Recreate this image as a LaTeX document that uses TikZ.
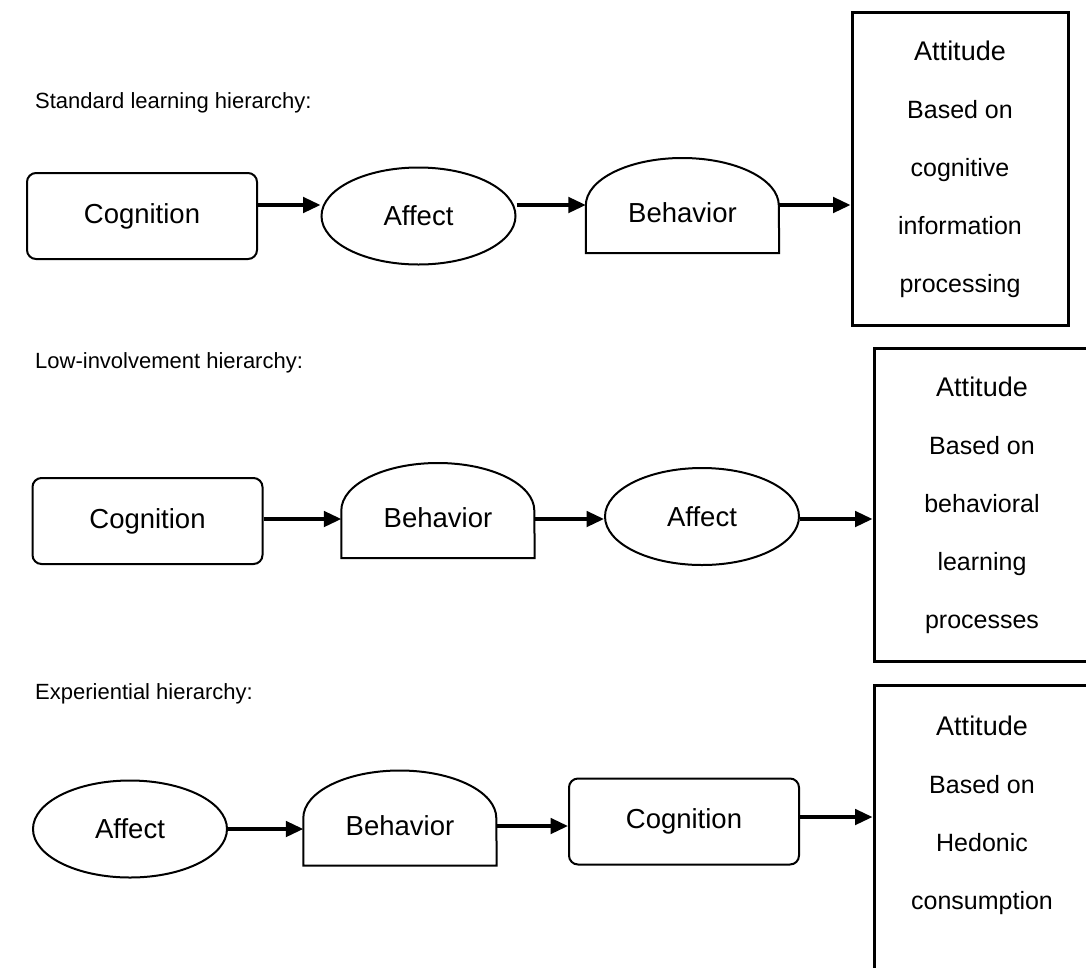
\documentclass[tikz,border=0pt]{standalone}
\usepackage{fontspec}
\setmainfont{Liberation Sans}
\usetikzlibrary{arrows.meta,shapes.geometric,calc}

% rounded-top "dome" outline drawn around a rectangle node
\newcommand\drawdome[1]{%
  \draw[shapeline] (#1.south west) -- (#1.west)
    arc[start angle=180,end angle=0,x radius=96.5pt,y radius=47.5pt]
    -- (#1.south east) -- cycle;}

\begin{document}
\begin{tikzpicture}[x=1pt,y=-1pt,
  shapeline/.style={draw=black,line width=2pt},
  nodefont/.style={font=\fontsize{27.5}{33}\selectfont},
  cogbox/.style={shapeline,rectangle,rounded corners=9pt,minimum width=230pt,
    minimum height=86pt,inner sep=0pt,nodefont},
  affectnode/.style={shapeline,ellipse,minimum width=194pt,minimum height=97pt,
    inner sep=0pt,nodefont},
  domenode/.style={rectangle,minimum width=193pt,minimum height=95pt,inner sep=0pt,
    text height=34pt,text depth=0pt,nodefont},
  attbox/.style={draw=black,line width=3pt,rectangle,minimum width=216pt,
    minimum height=313pt,inner sep=0pt,align=center,font=\fontsize{25}{58}\selectfont},
  heading/.style={anchor=west,inner sep=0pt,font=\fontsize{22}{26}\selectfont},
  flow/.style={line width=3.4pt,-{Triangle[length=17.5pt,width=15.5pt]}}
]
\useasboundingbox (0,0) rectangle (1086,967);
\fill[white] (0,0) rectangle (1086,967);
\clip (0,0) rectangle (1086,967);

% ---------- standard learning hierarchy ----------
\node[heading] (h1) at (35,103) {Standard learning hierarchy:};
\node[cogbox] (c1) at (142,216) {Cognition};
\node[affectnode] (a1) at (418.5,216) {Affect};
\node[domenode] (b1) at (682.5,205.5) {Behavior};
\drawdome{b1}
\node[attbox] (t1) at (960,169) {{\fontsize{27}{58}\selectfont Attitude}\\Based on\\cognitive\\information\\processing};
\coordinate (r1) at (0,205);
\draw[flow] (c1.east |- r1) -- (a1.west |- r1);
\draw[flow] (a1.east |- r1) -- (b1.west |- r1);
\draw[flow] (b1.east |- r1) -- (t1.west |- r1);

% ---------- low-involvement hierarchy ----------
\node[heading] (h2) at (35,363) {Low-involvement hierarchy:};
\node[cogbox] (c2) at (147.5,521) {Cognition};
\node[domenode] (b2) at (438,510.5) {Behavior};
\drawdome{b2}
\node[affectnode] (a2) at (702,516.5) {Affect};
\node[attbox] (t2) at (982,505) {{\fontsize{27}{58}\selectfont Attitude}\\Based on\\behavioral\\learning\\processes};
\coordinate (r2) at (0,519);
\draw[flow] (c2.east |- r2) -- (b2.west |- r2);
\draw[flow] (b2.east |- r2) -- (a2.west |- r2);
\draw[flow] (a2.east |- r2) -- (t2.west |- r2);

% ---------- experiential hierarchy ----------
\node[heading] (h3) at (35,694) {Experiential hierarchy:};
\node[affectnode] (a3) at (130,829) {Affect};
\node[domenode] (b3) at (400,818) {Behavior};
\drawdome{b3}
\node[cogbox] (c3) at (684,821.5) {Cognition};
\node[attbox] (t3) at (982,842) {{\fontsize{27}{58}\selectfont Attitude}\\Based on\\Hedonic\\consumption\\\mbox{}};
\coordinate (r3a) at (0,829);
\coordinate (r3b) at (0,826);
\coordinate (r3c) at (0,817);
\draw[flow] (a3.east |- r3a) -- (b3.west |- r3a);
\draw[flow] (b3.east |- r3b) -- (c3.west |- r3b);
\draw[flow] (c3.east |- r3c) -- (t3.west |- r3c);
\end{tikzpicture}
\end{document}
